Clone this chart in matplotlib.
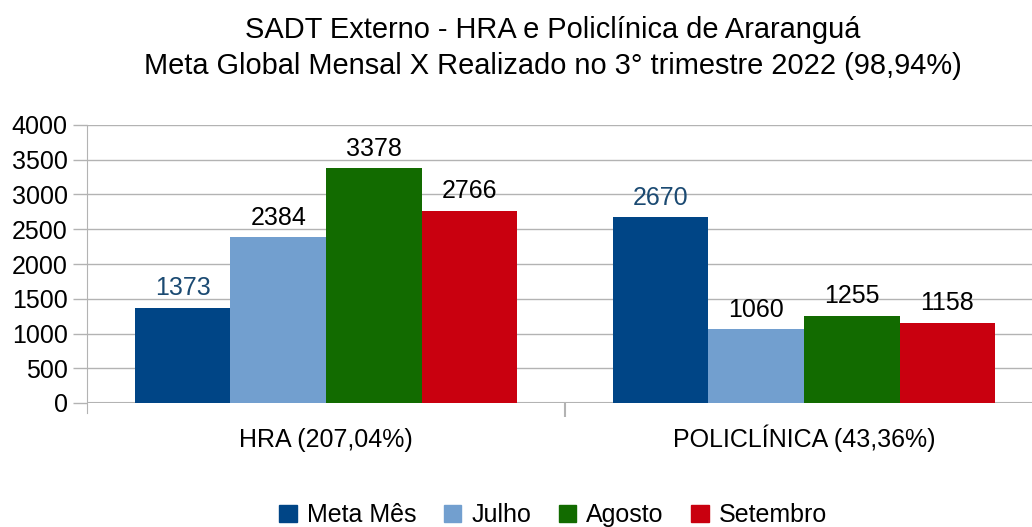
import matplotlib
matplotlib.use("Agg")
import matplotlib.pyplot as plt
import numpy as np

plt.rcParams['font.family'] = ['Liberation Sans', 'DejaVu Sans']

categories = ["HRA (207,04%)", "POLICLÍNICA (43,36%)"]
series_names = ["Meta Mês", "Julho", "Agosto", "Setembro"]
meta = [1373, 2670]
julho = [2384, 1060]
agosto = [3378, 1255]
setembro = [2766, 1158]
colors = ["#004586", "#729fcf", "#126b00", "#c9000f"]
label_colors = ["#1b4a72", "black", "black", "black"]
title = "SADT Externo - HRA e Policlínica de Araranguá\nMeta Global Mensal X Realizado no 3° trimestre 2022 (98,94%)"

fig = plt.figure(figsize=(10.32, 5.27), dpi=100)
W, H = 1032, 527
ax = fig.add_axes([87 / W, 1 - 403 / H, (1043 - 87) / W, (403 - 125) / H])

x = np.arange(len(categories))
bw = 0.2
all_series = [meta, julho, agosto, setembro]
for i, (vals, name, c, lc) in enumerate(zip(all_series, series_names, colors, label_colors)):
    pos = x + (i - 1.5) * bw
    ax.bar(pos, vals, bw, color=c, label=name, zorder=3)
    for xp, v in zip(pos, vals):
        ax.text(xp, v + 110, str(v), ha='center', va='bottom', fontsize=18, color=lc)

ax.set_xlim(-0.5, 1.5)
ax.set_ylim(0, 4000)
ax.set_yticks(np.arange(0, 4001, 500))
ax.tick_params(axis='y', labelsize=18, length=10, color='#b3b3b3', width=1, pad=4)
ax.set_xticks([0.5])
ax.set_xticklabels([""])
ax.tick_params(axis='x', length=10, color='#b3b3b3', width=1.5)
for xi, c in zip(x, categories):
    ax.text(xi, -640, c, ha='center', va='baseline', fontsize=18)
ax.grid(axis='y', color='#b3b3b3', linewidth=1, zorder=0)
for s in ['top', 'right', 'bottom']:
    ax.spines[s].set_visible(False)
ax.spines['left'].set_color('#b3b3b3')
ax.spines['left'].set_bounds(-150, 4000)
ax.spines['left'].set_position(('data', -0.5))
ax.axhline(0, color='#b3b3b3', linewidth=1.5, zorder=2)

fig.text(553 / W, 1 - 48 / H, title, ha='center', va='center', fontsize=20.9, linespacing=1.37)

handles = [plt.Rectangle((0, 0), 1, 1, color=c) for c in colors]
fig.legend(handles, series_names, loc='center', bbox_to_anchor=(0.536, 1 - 515 / H), ncol=4,
           frameon=False, fontsize=18, handlelength=0.7, handleheight=0.7,
           handletextpad=0.4, columnspacing=1.1)

fig.savefig("out.png", dpi=100)
